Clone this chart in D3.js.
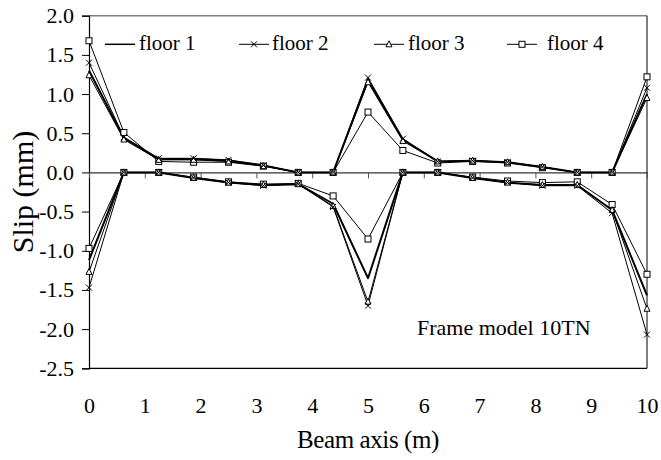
<!DOCTYPE html>
<html>
<head>
<meta charset="utf-8">
<script src="https://cdn.jsdelivr.net/npm/d3@7"></script>
<style>
  html, body { margin: 0; padding: 0; background: #fff; }
  svg { display: block; font-family: "Liberation Serif", "Times New Roman", serif; }
</style>
</head>
<body>
<svg id="chart" width="661" height="460"></svg>
<script>
// ---- data ----
const beamX = [0, 0.625, 1.25, 1.875, 2.5, 3.125, 3.75, 4.375, 5, 5.625, 6.25, 6.875, 7.5, 8.125, 8.75, 9.375, 10];

const floor1Pos = [1.30, 0.44, 0.17, 0.17, 0.15, 0.09, 0, 0, 1.18, 0.42, 0.14, 0.15, 0.13, 0.07, 0, 0, 1.00];
const floor2Pos = [1.40, 0.45, 0.18, 0.18, 0.16, 0.09, 0, 0, 1.21, 0.43, 0.14, 0.15, 0.13, 0.07, 0, 0, 1.08];
const floor3Pos = [1.24, 0.42, 0.16, 0.16, 0.14, 0.08, 0, 0, 1.15, 0.40, 0.14, 0.15, 0.13, 0.07, 0, 0, 0.95];
const floor4Pos = [1.68, 0.51, 0.14, 0.13, 0.13, 0.08, 0, 0, 0.77, 0.28, 0.12, 0.14, 0.12, 0.06, 0, 0, 1.22];

const floor1Neg = [-1.12, 0, 0, -0.07, -0.13, -0.16, -0.15, -0.40, -1.35, 0, 0, -0.07, -0.13, -0.16, -0.16, -0.48, -1.57];
const floor2Neg = [-1.47, 0, 0, -0.07, -0.13, -0.17, -0.15, -0.44, -1.70, 0, 0, -0.07, -0.13, -0.17, -0.17, -0.52, -2.07];
const floor3Neg = [-1.27, 0, 0, -0.07, -0.13, -0.16, -0.15, -0.43, -1.65, 0, 0, -0.07, -0.13, -0.16, -0.16, -0.48, -1.74];
const floor4Neg = [-0.97, 0, 0, -0.06, -0.12, -0.15, -0.14, -0.30, -0.85, 0, 0, -0.06, -0.11, -0.13, -0.12, -0.41, -1.30];

const seriesNames = ["floor 1", "floor 2", "floor 3", "floor 4"];
const markerTypes = ["none", "cross", "triangle", "square"];
const xTicks = [0, 1, 2, 3, 4, 5, 6, 7, 8, 9, 10];
const yTicks = [-2.5, -2.0, -1.5, -1.0, -0.5, 0.0, 0.5, 1.0, 1.5, 2.0];
const xTitle = "Beam axis (m)";
const yTitle = "Slip (mm)";
const note = "Frame model 10TN";

// ---- layout ----
const svg = d3.select("#chart");
const L = 89, R = 647, T = 15.7, B = 368.3;
const x = d3.scaleLinear().domain([0, 10]).range([L, R]);
const y = d3.scaleLinear().domain([-2.5, 2.0]).range([B, T]);
const serif = "Liberation Serif, Times New Roman, serif";

const series = [
  { name: seriesNames[0], marker: markerTypes[0], pos: floor1Pos, neg: floor1Neg, w: 2 },
  { name: seriesNames[1], marker: markerTypes[1], pos: floor2Pos, neg: floor2Neg, w: 1 },
  { name: seriesNames[2], marker: markerTypes[2], pos: floor3Pos, neg: floor3Neg, w: 1 },
  { name: seriesNames[3], marker: markerTypes[3], pos: floor4Pos, neg: floor4Neg, w: 1 }
];

// borders
svg.append("line").attr("x1", L).attr("x2", R).attr("y1", T).attr("y2", T)
  .attr("stroke", "#808080").attr("stroke-width", 1.5);
svg.append("line").attr("x1", R).attr("x2", R).attr("y1", T).attr("y2", B)
  .attr("stroke", "#000").attr("stroke-width", 1);
svg.append("line").attr("x1", L).attr("x2", R).attr("y1", B).attr("y2", B)
  .attr("stroke", "#000").attr("stroke-width", 1.2);

// y axis
const fmt = d => d3.format(".1f")(d).replace("−", "-");
const yAxis = svg.append("g").attr("transform", `translate(${L},0)`)
  .call(d3.axisLeft(y).tickValues(yTicks).tickFormat(fmt).tickSize(7).tickPadding(8));
yAxis.select(".domain").attr("stroke", "#000").attr("stroke-width", 1.2);
yAxis.selectAll(".tick line").attr("stroke", "#000").attr("stroke-width", 1);
yAxis.selectAll(".tick text").attr("font-size", 22).attr("fill", "#000")
  .attr("font-family", serif);

// zero-line axis with ticks
const zeroAxis = svg.append("g").attr("transform", `translate(0,${y(0)})`)
  .call(d3.axisBottom(x).tickValues(xTicks).tickFormat("").tickSize(6).tickSizeOuter(0));
zeroAxis.select(".domain").attr("stroke", "#000").attr("stroke-width", 1);
zeroAxis.selectAll(".tick line").attr("stroke", "#555").attr("stroke-width", 1);

// x labels at bottom
const xLab = svg.append("g").attr("transform", `translate(0,${B})`)
  .call(d3.axisBottom(x).tickValues(xTicks).tickFormat(d3.format("d")).tickSize(0).tickPadding(29));
xLab.select(".domain").remove();
xLab.selectAll(".tick text").attr("font-size", 22).attr("fill", "#000")
  .attr("font-family", serif);

// titles
svg.append("text").attr("x", (L + R) / 2).attr("y", 448)
  .attr("text-anchor", "middle").attr("font-size", 25).attr("letter-spacing", -0.4)
  .attr("font-family", serif).text(xTitle);
svg.append("text").attr("transform", `translate(33,192) rotate(-90)`)
  .attr("text-anchor", "middle").attr("font-size", 30)
  .attr("font-family", serif).text(yTitle);
svg.append("text").attr("x", 417).attr("y", 335).attr("font-size", 22)
  .attr("font-family", serif).text(note);

// marker drawing
function drawMarker(g, type, cx, cy) {
  const s = 3;
  if (type === "cross") {
    g.append("path").attr("d", `M${cx - s},${cy - s}L${cx + s},${cy + s}M${cx - s},${cy + s}L${cx + s},${cy - s}`)
      .attr("stroke", "#000").attr("stroke-width", 1).attr("fill", "none");
  } else if (type === "triangle") {
    g.append("path").attr("d", `M${cx},${cy - s - 0.5}L${cx + s},${cy + s - 0.5}L${cx - s},${cy + s - 0.5}Z`)
      .attr("stroke", "#000").attr("stroke-width", 1).attr("fill", "#fff");
  } else if (type === "square") {
    g.append("rect").attr("x", cx - s).attr("y", cy - s).attr("width", 2 * s).attr("height", 2 * s)
      .attr("stroke", "#000").attr("stroke-width", 1).attr("fill", "#fff");
  }
}

const line = d3.line().x(d => x(d[0])).y(d => y(d[1]));
const plot = svg.append("g");
[3, 2, 1, 0].forEach(i => {
  const s = series[i];
  [s.pos, s.neg].forEach(arr => {
    const pts = beamX.map((bx, k) => [bx, arr[k]]);
    plot.append("path").attr("d", line(pts)).attr("fill", "none")
      .attr("stroke", "#000").attr("stroke-width", s.w).attr("stroke-linejoin", "round");
  });
});
[3, 2, 1].forEach(i => {
  const s = series[i];
  [s.pos, s.neg].forEach(arr => {
    beamX.forEach((bx, k) => drawMarker(plot, s.marker, x(bx), y(arr[k])));
  });
});

// legend
const legX = [105, 239, 374, 507];
const legTextX = [139, 272, 408, 547];
const legY = 44.3;
series.forEach((s, i) => {
  svg.append("line").attr("x1", legX[i]).attr("x2", legX[i] + 30).attr("y1", legY).attr("y2", legY)
    .attr("stroke", "#000").attr("stroke-width", i === 0 ? 1.5 : 1);
  drawMarker(svg, s.marker, legX[i] + 15, legY);
  svg.append("text").attr("x", legTextX[i]).attr("y", 50).attr("font-size", 21)
    .attr("font-family", serif).text(s.name);
});
</script>
</body>
</html>
